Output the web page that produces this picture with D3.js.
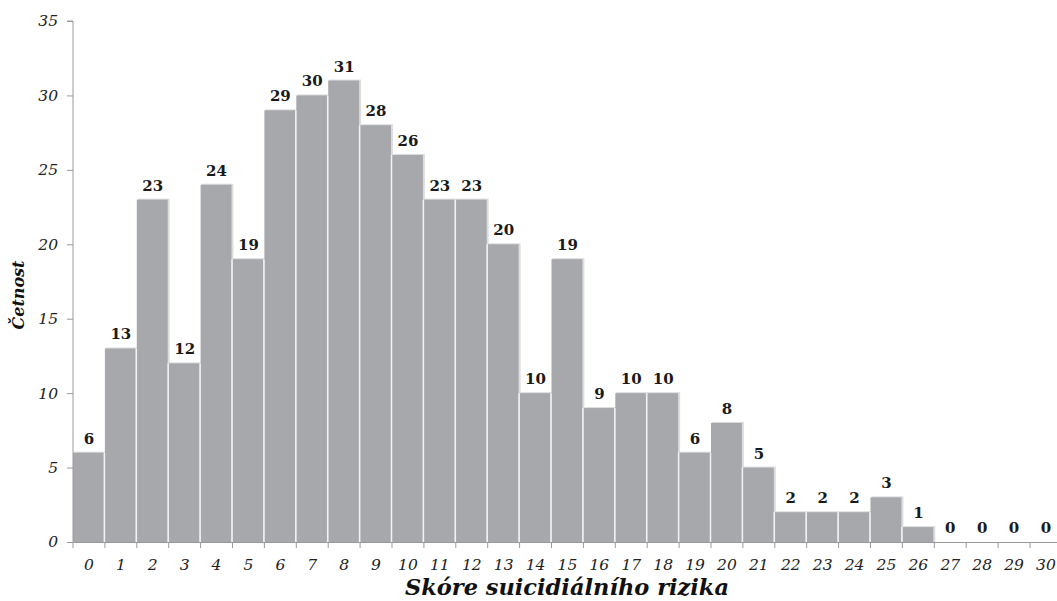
<!DOCTYPE html>
<html><head><meta charset="utf-8">
<script src="https://cdn.jsdelivr.net/npm/d3@7"></script>
<style>body{margin:0;background:#fff}svg{display:block}</style>
</head><body>
<svg id="c" width="1057" height="601"></svg>
<script>
const categories = ["0","1","2","3","4","5","6","7","8","9","10","11","12","13","14","15","16","17","18","19","20","21","22","23","24","25","26","27","28","29","30"];
const counts = [6,13,23,12,24,19,29,30,31,28,26,23,23,20,10,19,9,10,10,6,8,5,2,2,2,3,1,0,0,0,0];
const yTicks = [0,5,10,15,20,25,30,35];
const yTickLabels = ["0","5","10","15","20","25","30","35"];
const xTitle = "Skóre suicidiálního rizika";
const yTitle = "Četnost";

const svg = d3.select("#c");
const font = "'DejaVu Serif', 'Liberation Serif', serif";
const x0 = 73, y0 = 542, yTop = 21;
const band = 31.9;
const x = d3.scaleBand().domain(categories).range([x0, x0 + band*categories.length]).padding(0);
const y = d3.scaleLinear().domain([0,35]).range([y0, yTop]);

// bars shadow
svg.append("g").selectAll("rect").data(counts).join("rect")
  .attr("x", (d,i)=>x(categories[i])+1)
  .attr("y", d=>y(d)-1)
  .attr("width", x.bandwidth())
  .attr("height", d=>y0-y(d)+1)
  .attr("fill", d=>d>0?"#dcdde0":"none");
svg.append("g").selectAll("rect").data(counts).join("rect")
  .attr("x", (d,i)=>x(categories[i]))
  .attr("y", d=>y(d))
  .attr("width", x.bandwidth()-1)
  .attr("height", d=>y0-y(d))
  .attr("fill", "#a6a8ab");
// white separators
svg.append("g").selectAll("line").data(counts).join("line")
  .attr("x1",(d,i)=>x(categories[i])+x.bandwidth()-0.5)
  .attr("x2",(d,i)=>x(categories[i])+x.bandwidth()-0.5)
  .attr("y1",(d,i)=>y(Math.min(d, i<counts.length-1?counts[i+1]:0)))
  .attr("y2",y0)
  .attr("stroke","#f2f2f2").attr("stroke-width",1.5);

// value labels
svg.append("g").selectAll("text").data(counts).join("text")
  .attr("x",(d,i)=>x(categories[i])+x.bandwidth()/2)
  .attr("y",d=>y(d)-9)
  .attr("text-anchor","middle")
  .attr("font-family",font).attr("font-weight","bold").attr("font-size",15)
  .attr("fill","#1a1a1a")
  .text(d=>d);

// y axis
const yAxis = d3.axisLeft(y).tickValues(yTicks).tickSize(6).tickPadding(9).tickFormat((d,i)=>yTickLabels[i]);
const gy = svg.append("g").attr("transform",`translate(${x0},0)`).call(yAxis);
gy.select(".domain").attr("stroke","#9a9a9a").attr("d",`M-6,${yTop}H0V${y0}`);
gy.selectAll(".tick line").attr("stroke","#9a9a9a");
gy.selectAll("text").attr("font-family",font).attr("font-style","italic").attr("font-size",15.5).attr("fill","#222");

// x axis
const xAxis = d3.axisBottom(x).tickSize(0).tickPadding(17);
const gx = svg.append("g").attr("transform",`translate(0,${y0})`).call(xAxis);
gx.select(".domain").attr("stroke","#9a9a9a");
gx.selectAll("text").attr("font-family",font).attr("font-style","italic").attr("font-size",15.5).attr("fill","#222");
svg.append("g").selectAll("line").data(categories).join("line")
  .attr("x1",d=>x(d)).attr("x2",d=>x(d)).attr("y1",y0).attr("y2",y0+6)
  .attr("stroke","#9a9a9a");

// titles
svg.append("text").attr("x",567).attr("y",595).attr("text-anchor","middle")
  .attr("font-family",font).attr("font-weight","bold").attr("font-style","italic").attr("font-size",22.5)
  .attr("fill","#111").text(xTitle);
svg.append("text").attr("transform","translate(24,295) rotate(-90)").attr("text-anchor","middle")
  .attr("font-family",font).attr("font-weight","bold").attr("font-style","italic").attr("font-size",16)
  .attr("fill","#111").text(yTitle);
</script>
</body></html>
